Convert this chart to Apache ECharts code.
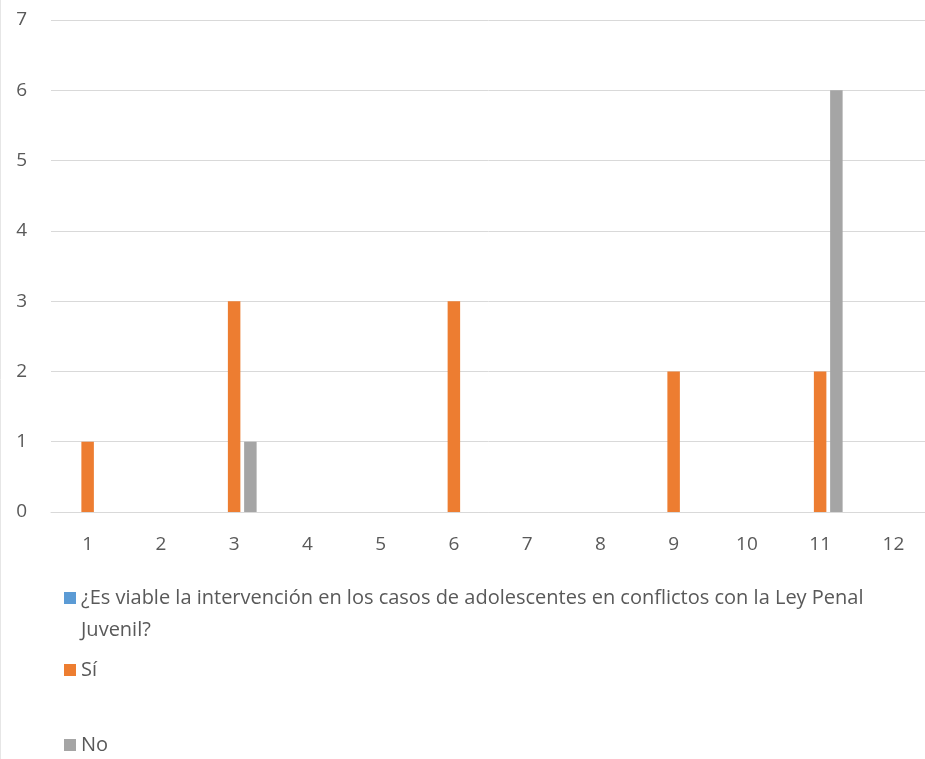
<!DOCTYPE html>
<html>
<head>
<meta charset="utf-8">
<script src="https://cdn.jsdelivr.net/npm/echarts@6/dist/echarts.min.js"></script>
<style>
  html, body { margin: 0; padding: 0; background: #fff; }
  #chart { width: 925px; height: 759px; }
</style>
</head>
<body>
<div id="chart"></div>
<script>
// categorías del eje X
const categories = ['1', '2', '3', '4', '5', '6', '7', '8', '9', '10', '11', '12'];

// series
const questionName = '¿Es viable la intervención en los casos de adolescentes en conflictos con la Ley Penal Juvenil?';
const questionValues = [null, null, null, null, null, null, null, null, null, null, null, null];
const siValues = [1, null, 3, null, null, 3, null, null, 2, null, 2, null];
const noValues = [null, null, 1, null, null, null, null, null, null, null, 6, null];

const textColor = '#595959';
const fontFamily = '"Open Sans", sans-serif';

let myChart = echarts.init(document.getElementById('chart'));

function legendItem (name, top, extra) {
  return Object.assign({
    orient: 'vertical',
    left: 59,
    top: top,
    itemWidth: 12,
    itemHeight: 12,
    icon: 'rect',
    selectedMode: false,
    data: [name],
    textStyle: {
      color: textColor,
      fontFamily: fontFamily,
      fontSize: 20
    }
  }, extra || {});
}

myChart.setOption({
  animation: false,
  grid: {
    left: 51,
    top: 20,
    width: 879,
    height: 492,
    outerBoundsMode: 'none',
    containLabel: false
  },
  graphic: [{
    type: 'line',
    shape: { x1: 0.5, y1: 0, x2: 0.5, y2: 759 },
    style: { stroke: '#e6e6e6', lineWidth: 1 }
  }],
  legend: [
    // texto largo en dos líneas; la línea vacía arriba deja el icono junto a la primera
    legendItem(questionName, 545, {
      formatter: (name) => ' \n' + name,
      textStyle: {
        color: textColor,
        fontFamily: fontFamily,
        fontSize: 20,
        lineHeight: 32,
        width: 830,
        overflow: 'break'
      }
    }),
    legendItem('Sí', 655),
    legendItem('No', 730)
  ],
  xAxis: {
    type: 'category',
    data: categories,
    axisLine: { lineStyle: { color: '#d9d9d9', width: 1 } },
    axisTick: { show: false },
    axisLabel: {
      color: textColor,
      fontFamily: fontFamily,
      fontSize: 19,
      margin: 23
    }
  },
  yAxis: {
    type: 'value',
    min: 0,
    max: 7,
    interval: 1,
    splitLine: { lineStyle: { color: '#d9d9d9', width: 1 } },
    axisLine: { show: false },
    axisTick: { show: false },
    axisLabel: {
      color: textColor,
      fontFamily: fontFamily,
      fontSize: 19,
      margin: 24
    }
  },
  series: [
    {
      name: questionName,
      type: 'bar',
      data: questionValues,
      barWidth: 12.5,
      barGap: '30%',
      itemStyle: { color: '#5b9bd5' }
    },
    {
      name: 'Sí',
      type: 'bar',
      data: siValues,
      barWidth: 12.5,
      barGap: '30%',
      itemStyle: { color: '#ed7d31' }
    },
    {
      name: 'No',
      type: 'bar',
      data: noValues,
      barWidth: 12.5,
      barGap: '30%',
      itemStyle: { color: '#a5a5a5' }
    }
  ]
});

window.addEventListener('resize', () => {
  myChart.resize();
});
</script>
</body>
</html>
